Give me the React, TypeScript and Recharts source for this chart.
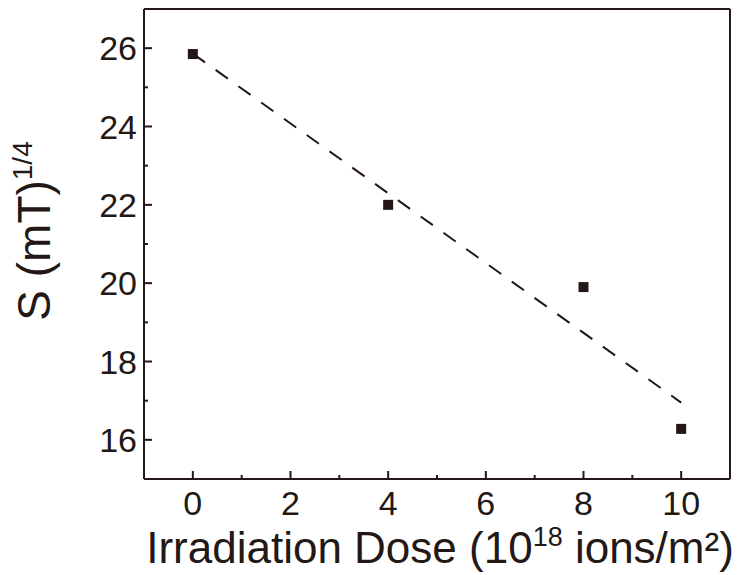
import React from "react";
import { ScatterChart, Scatter, XAxis, YAxis } from "recharts";

const INK = "#231815";
const FONT = "'Liberation Sans', Arial, sans-serif";

// measured points
const doses = [0, 4, 8, 10];
const sValues = [25.85, 22.0, 19.9, 16.28];

// dashed linear fit, read at its two ends
const fitDoses = [0, 10];
const fitValues = [25.86, 16.95];

const xTicks = [0, 1, 2, 3, 4, 5, 6, 7, 8, 9, 10];
const yTicks = [16, 17, 18, 19, 20, 21, 22, 23, 24, 25, 26];

const points = doses.map((d, i) => ({ x: d, y: sValues[i] }));
const fit = fitDoses.map((d, i) => ({ x: d, y: fitValues[i] }));

const MAJOR = 8;
const MINOR = 4;

function BottomTick({ x, y, payload }: any) {
  const major = payload.value % 2 === 0;
  return (
    <g>
      <line x1={x} x2={x} y1={y} y2={y - (major ? MAJOR : MINOR)} stroke={INK} strokeWidth={2} />
      {major && (
        <text x={x} y={y + 36} textAnchor="middle" fontSize={34} fill={INK} fontFamily={FONT}>
          {payload.value}
        </text>
      )}
    </g>
  );
}

function TopTick({ x, y, payload }: any) {
  const major = payload.value % 2 === 0;
  return <line x1={x} x2={x} y1={y} y2={y + (major ? MAJOR : MINOR)} stroke={INK} strokeWidth={2} />;
}

function LeftTick({ x, y, payload }: any) {
  const major = payload.value % 2 === 0;
  return (
    <g>
      <line x1={x} x2={x + (major ? MAJOR : MINOR)} y1={y} y2={y} stroke={INK} strokeWidth={2} />
      {major && (
        <text x={x - 7} y={y + 12} textAnchor="end" fontSize={34} fill={INK} fontFamily={FONT}>
          {payload.value}
        </text>
      )}
    </g>
  );
}

function RightTick({ x, y, payload }: any) {
  const major = payload.value % 2 === 0;
  return <line x1={x} x2={x - (major ? MAJOR : MINOR)} y1={y} y2={y} stroke={INK} strokeWidth={2} />;
}

const square = ({ cx, cy }: any) => <rect x={cx - 5} y={cy - 5} width={10} height={10} fill={INK} />;

export default function App() {
  return (
    <div style={{ position: "absolute", left: 0, top: 0 }}>
      <ScatterChart width={738} height={575} margin={{ top: 8, right: 7, bottom: 0, left: 0 }}>
        <XAxis
          xAxisId="b"
          dataKey="x"
          type="number"
          domain={[-1, 11]}
          ticks={xTicks}
          interval={0}
          tickSize={0}
          tickMargin={0}
          tickLine={false}
          tick={BottomTick}
          height={96}
          axisLine={{ stroke: INK, strokeWidth: 2 }}
          label={{
            content: () => (
              <text x={440} y={563} textAnchor="middle" fontSize={44} fill={INK} fontFamily={FONT}>
                Irradiation Dose (10
                <tspan dy={-17} fontSize={27}>18</tspan>
                <tspan dy={17}> ions/m²)</tspan>
              </text>
            ),
          }}
        />
        <XAxis
          xAxisId="t"
          orientation="top"
          dataKey="x"
          type="number"
          domain={[-1, 11]}
          ticks={xTicks}
          interval={0}
          tickSize={0}
          tickMargin={0}
          tickLine={false}
          tick={TopTick}
          height={1}
          axisLine={{ stroke: INK, strokeWidth: 2 }}
        />
        <YAxis
          yAxisId="l"
          dataKey="y"
          type="number"
          domain={[15, 27]}
          ticks={yTicks}
          interval={0}
          tickSize={0}
          tickMargin={0}
          tickLine={false}
          tick={LeftTick}
          width={144}
          axisLine={{ stroke: INK, strokeWidth: 2 }}
          label={{
            content: () => (
              <text
                x={50}
                y={231}
                transform="rotate(-90, 50, 231)"
                textAnchor="middle"
                fontSize={46}
                fill={INK}
                fontFamily={FONT}
              >
                S (mT)
                <tspan dy={-18} fontSize={28}>1/4</tspan>
              </text>
            ),
          }}
        />
        <YAxis
          yAxisId="r"
          orientation="right"
          dataKey="y"
          type="number"
          domain={[15, 27]}
          ticks={yTicks}
          interval={0}
          tickSize={0}
          tickMargin={0}
          tickLine={false}
          tick={RightTick}
          width={1}
          axisLine={{ stroke: INK, strokeWidth: 2 }}
        />
        <Scatter
          xAxisId="b"
          yAxisId="l"
          data={fit}
          line={{ stroke: INK, strokeWidth: 2, strokeDasharray: "15 13" }}
          shape={() => <g />}
          isAnimationActive={false}
        />
        <Scatter xAxisId="t" yAxisId="r" data={[]} isAnimationActive={false} />
        <Scatter xAxisId="b" yAxisId="l" data={points} shape={square} isAnimationActive={false} />
      </ScatterChart>
    </div>
  );
}
